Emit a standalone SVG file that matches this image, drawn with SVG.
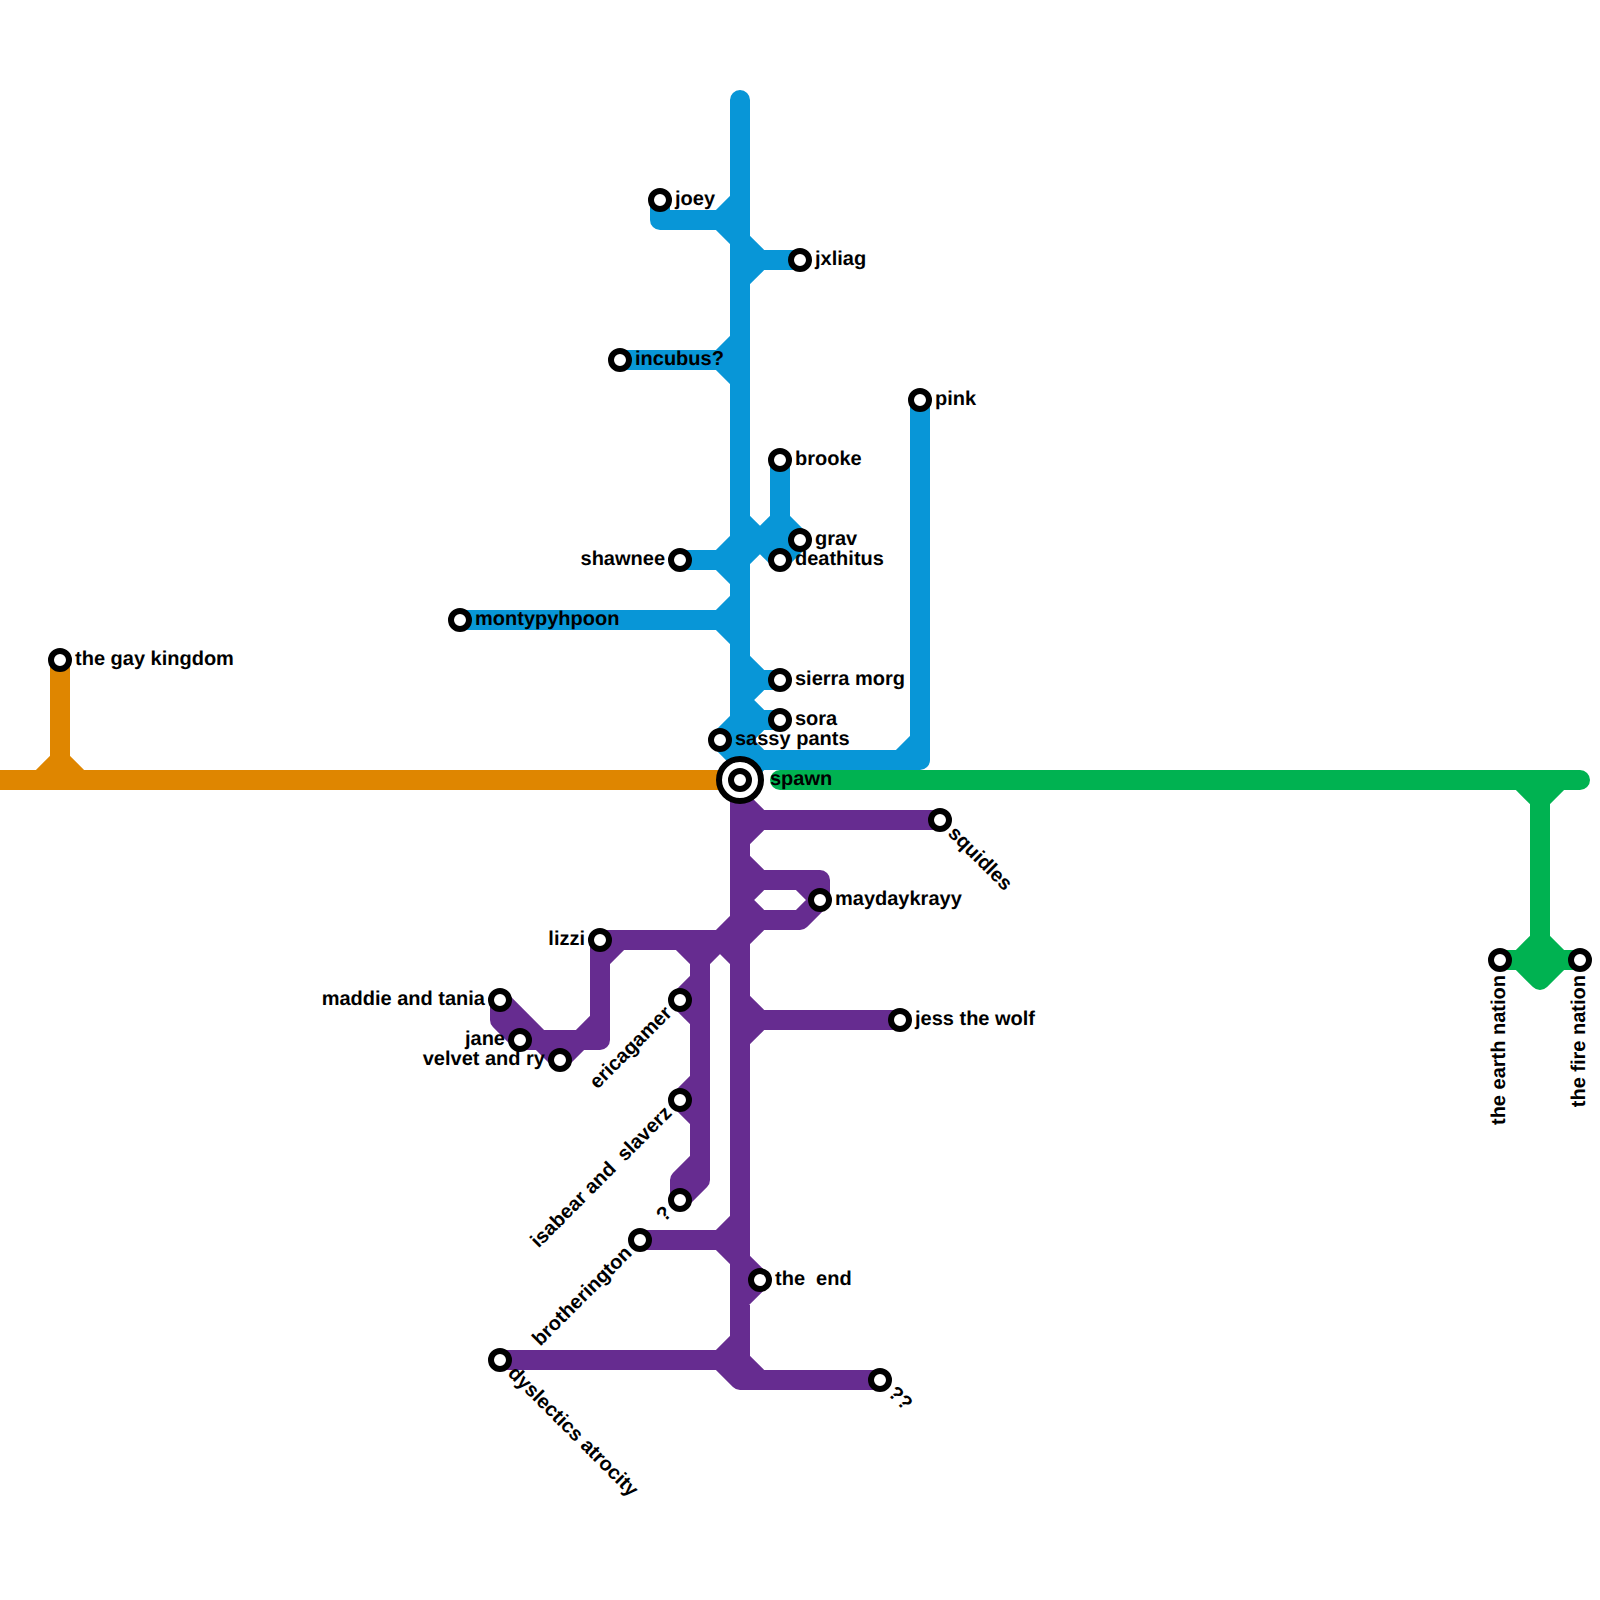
<svg xmlns="http://www.w3.org/2000/svg" width="1600" height="1600" viewBox="0 0 1600 1600">
<style>
.l{fill:none;stroke-width:20;stroke-linecap:round;stroke-linejoin:round}
.blue{stroke:#0896d7}.purple{stroke:#662c90}.orange{stroke:#df8600}.green{stroke:#00b251}
.s{fill:#fff;stroke:#000;stroke-width:6}
text{font-family:"Liberation Sans",Arial,sans-serif;font-size:20px;font-weight:700;fill:#000;white-space:pre;text-rendering:geometricPrecision}
.e{text-anchor:end}
</style>
<g id="connectors">
<path class="l blue" d="M740 100V760M660 200V220H720M740 200L720 220L740 240L760 260H800M760 260L740 280M740 340L720 360H620M720 360L740 380M780 460V560M780 520L800 540L780 560M780 520L740 560M740 520L780 560M680 560H720M740 540L720 560L740 580M740 600L720 620H460M720 620L740 640M740 660L760 680H780M760 680L740 700L760 720H780M760 720L740 740M740 720L720 740L740 760M740 740L760 760H920V400M900 760L920 740M760 760L740 780"/>
<path class="l orange" d="M0 780H740M60 660V760M40 780L60 760L80 780"/>
<path class="l green" d="M780 780H1580M1520 780L1540 800L1560 780M1540 800V980M1500 960H1580M1540 940L1520 960L1540 980L1560 960Z"/>
<path class="l purple" d="M740 780V1360M740 800L760 820H940M760 820L740 840M740 860L760 880H820V900L800 920H760L740 940M800 880L820 900M760 880L740 900L760 920M740 920L720 940H620M720 940L700 960M720 940L740 960M680 940L700 960V1180L680 1200V1180L700 1160M700 980L680 1000L700 1020M700 1080L680 1100L700 1120M620 940H600V1040H520L500 1020V1000L540 1040L560 1060L580 1040M620 940L600 960M600 1020L580 1040M740 1000L760 1020H900M760 1020L740 1040M740 1220L720 1240H640M720 1240L740 1260L760 1280L740 1300M740 1340L720 1360H500M720 1360L740 1380H880M740 1360L760 1380"/>
</g>
<g id="the-gay-kingdom"><circle class="s" cx="60" cy="660" r="9"/><text x="75" y="665">the gay kingdom</text></g>
<g id="montypyhpoon"><circle class="s" cx="460" cy="620" r="9"/><text x="475" y="625">montypyhpoon</text></g>
<g id="joey"><circle class="s" cx="660" cy="200" r="9"/><text x="675" y="205">joey</text></g>
<g id="jxliag"><circle class="s" cx="800" cy="260" r="9"/><text x="815" y="265">jxliag</text></g>
<g id="incubus"><circle class="s" cx="620" cy="360" r="9"/><text x="635" y="365">incubus?</text></g>
<g id="pink"><circle class="s" cx="920" cy="400" r="9"/><text x="935" y="405">pink</text></g>
<g id="brooke"><circle class="s" cx="780" cy="460" r="9"/><text x="795" y="465">brooke</text></g>
<g id="grav"><circle class="s" cx="800" cy="540" r="9"/><text x="815" y="545">grav</text></g>
<g id="deathitus"><circle class="s" cx="780" cy="560" r="9"/><text x="795" y="565">deathitus</text></g>
<g id="shawnee"><circle class="s" cx="680" cy="560" r="9"/><text class="e" x="665" y="565">shawnee</text></g>
<g id="sierra-morg"><circle class="s" cx="780" cy="680" r="9"/><text x="795" y="685">sierra morg</text></g>
<g id="sora"><circle class="s" cx="780" cy="720" r="9"/><text x="795" y="725">sora</text></g>
<g id="sassy-pants"><circle class="s" cx="720" cy="740" r="9"/><text x="735" y="745">sassy pants</text></g>
<g id="spawn"><circle class="s" cx="740" cy="780" r="21"/><circle class="s" cx="740" cy="780" r="9"/><text x="770" y="785">spawn</text></g>
<g id="squidles"><circle class="s" cx="940" cy="820" r="9"/><text transform="translate(940 820) rotate(45)" x="15" y="5">squidles</text></g>
<g id="maydaykrayy"><circle class="s" cx="820" cy="900" r="9"/><text x="835" y="905">maydaykrayy</text></g>
<g id="lizzi"><circle class="s" cx="600" cy="940" r="9"/><text class="e" x="585" y="945">lizzi</text></g>
<g id="maddie-and-tania"><circle class="s" cx="500" cy="1000" r="9"/><text class="e" x="485" y="1005">maddie and tania</text></g>
<g id="jane"><circle class="s" cx="520" cy="1040" r="9"/><text class="e" x="505" y="1045">jane</text></g>
<g id="velvet-and-ry"><circle class="s" cx="560" cy="1060" r="9"/><text class="e" x="545" y="1065">velvet and ry</text></g>
<g id="ericagamer"><circle class="s" cx="680" cy="1000" r="9"/><text class="e" transform="translate(680 1000) rotate(-45)" x="-15" y="5">ericagamer</text></g>
<g id="isabear-and-slaverz"><circle class="s" cx="680" cy="1100" r="9"/><text class="e" transform="translate(680 1100) rotate(-45)" x="-15" y="5">isabear and  slaverz</text></g>
<g id="question"><circle class="s" cx="680" cy="1200" r="9"/><text class="e" transform="translate(680 1200) rotate(-45)" x="-15" y="5">?</text></g>
<g id="brotherington"><circle class="s" cx="640" cy="1240" r="9"/><text class="e" transform="translate(640 1240) rotate(-45)" x="-15" y="5">brotherington</text></g>
<g id="the-end"><circle class="s" cx="760" cy="1280" r="9"/><text x="775" y="1285">the  end</text></g>
<g id="dyslectics-atrocity"><circle class="s" cx="500" cy="1360" r="9"/><text transform="translate(500 1360) rotate(45)" x="15" y="5">dyslectics atrocity</text></g>
<g id="double-question"><circle class="s" cx="880" cy="1380" r="9"/><text transform="translate(880 1380) rotate(45)" x="15" y="5">??</text></g>
<g id="jess-the-wolf"><circle class="s" cx="900" cy="1020" r="9"/><text x="915" y="1025">jess the wolf</text></g>
<g id="the-earth-nation"><circle class="s" cx="1500" cy="960" r="9"/><text class="e" transform="translate(1500 960) rotate(-90)" x="-15" y="5">the earth nation</text></g>
<g id="the-fire-nation"><circle class="s" cx="1580" cy="960" r="9"/><text class="e" transform="translate(1580 960) rotate(-90)" x="-15" y="5">the fire nation</text></g>
</svg>
